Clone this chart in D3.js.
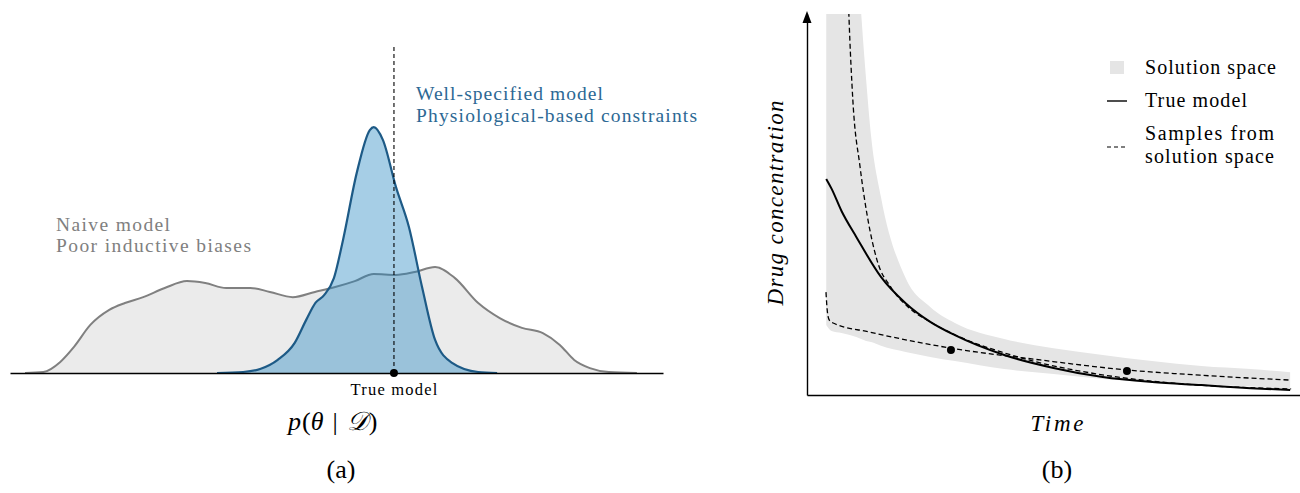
<!DOCTYPE html>
<html>
<head>
<meta charset="utf-8">
<script src="https://cdn.jsdelivr.net/npm/d3@7"></script>
<style>
  body { margin: 0; background: #fff; }
  svg { display: block; }
</style>
</head>
<body>
<svg id="chart" width="1300" height="493" font-family="'Liberation Serif', 'DejaVu Serif', serif"></svg>
<script>
// ---- (a) posterior densities p(theta | D) ----
const naiveTheta = [2.3, 5.1, 7.7, 9.8, 12.3, 15.2, 17.6, 20.4, 23.7, 27.1, 29.9, 33.1, 36.8, 39.8, 43.3, 46.7, 49.8, 52.8, 55.7, 59.1, 62.0, 65.1, 68.1, 71.7, 75.0, 78.4, 81.6, 84.2, 86.4, 88.8, 91.7, 96.0];
const naiveDens  = [0, 0.003, 0.034, 0.080, 0.147, 0.193, 0.214, 0.232, 0.260, 0.281, 0.275, 0.260, 0.260, 0.248, 0.232, 0.248, 0.263, 0.281, 0.303, 0.300, 0.309, 0.324, 0.291, 0.214, 0.168, 0.138, 0.122, 0.086, 0.040, 0.015, 0.003, 0];
const wellTheta = [31.7, 35.7, 38.3, 41.0, 43.6, 45.4, 46.8, 48.1, 49.6, 51.0, 53.1, 55.1, 55.7, 57.1, 59.1, 61.1, 63.1, 65.1, 67.7, 71.7, 74.6];
const wellDens  = [0, 0.003, 0.012, 0.040, 0.092, 0.164, 0.215, 0.238, 0.290, 0.407, 0.612, 0.743, 0.752, 0.713, 0.569, 0.446, 0.263, 0.101, 0.031, 0.003, 0];
const trueTheta = 58.8;

// ---- (b) drug concentration over time ----
const bandTime = [0.39, 0.5, 0.7, 1.0, 1.1, 1.2, 1.3, 1.5, 2, 2.5, 3, 4, 5, 6, 7, 8, 9, 9.8];
const bandLow  = [1.84, 1.68, 1.63, 1.52, 1.47, 1.42, 1.39, 1.29, 1.13, 1.0, 0.89, 0.68, 0.55, 0.42, 0.34, 0.28, 0.22, 0.16];
const bandHigh = [40, 30, 20, 12, 10.0, 8.27, 6.8, 5.2, 3.07, 2.31, 1.89, 1.47, 1.23, 1.05, 0.89, 0.76, 0.68, 0.60];
const trueTime = [0.39, 0.5, 0.7, 1.0, 1.5, 2, 2.5, 3, 4, 5, 6, 7, 8, 9, 9.8];
const trueConc = [5.67, 5.41, 4.83, 4.15, 3.10, 2.41, 1.92, 1.57, 1.05, 0.71, 0.47, 0.34, 0.26, 0.18, 0.13];
const sampleATime = [0.78, 0.85, 0.93, 1.075, 1.22, 1.42, 1.70, 2.05, 2.54, 3.25, 3.94, 4.65, 6.04, 7.44, 9.82];
const sampleAConc = [13, 9.97, 7.74, 6.0, 4.72, 3.54, 2.83, 2.31, 1.89, 1.44, 1.13, 0.87, 0.52, 0.31, 0.16];
const sampleBTime = [0.385, 0.41, 0.45, 0.53, 1.28, 2.92, 4.73, 6.47, 7.97, 9.82];
const sampleBConc = [2.70, 2.23, 1.97, 1.89, 1.65, 1.23, 0.92, 0.66, 0.52, 0.39];
const obsTime = [2.92, 6.49];
const obsConc = [1.18, 0.63];
const legendLabels = [["Solution space"], ["True model"], ["Samples from", "solution space"]];

const naiveColor = "#808080";
const naiveFill = "#ebebeb";
const wellStroke = "#1d5a86";
const wellFill = "rgba(33, 132, 192, 0.4)";
const wellText = "#2c6894";
const bandColor = "#e5e5e5";

const svg = d3.select("#chart");

// ---------- panel (a) ----------
const xA = d3.scaleLinear().domain([0, 100]).range([10, 663]);
const yA = d3.scaleLinear().domain([0, 1]).range([373, 46]);

const naive = naiveTheta.map((t, i) => ({t: t, d: naiveDens[i]}));
const well = wellTheta.map((t, i) => ({t: t, d: wellDens[i]}));

const areaA = d3.area().x(d => xA(d.t)).y0(yA(0)).y1(d => yA(d.d)).curve(d3.curveMonotoneX);
const lineA = d3.line().x(d => xA(d.t)).y(d => yA(d.d)).curve(d3.curveMonotoneX);

const gA = svg.append("g").attr("class", "panel-a");

gA.append("path").datum(naive).attr("d", areaA).attr("fill", naiveFill);
gA.append("path").datum(naive).attr("d", lineA)
  .attr("fill", "none").attr("stroke", naiveColor).attr("stroke-width", 2);
gA.append("path").datum(well).attr("d", areaA).attr("fill", wellFill);
gA.append("path").datum(well).attr("d", lineA)
  .attr("fill", "none").attr("stroke", wellStroke).attr("stroke-width", 2.2);

gA.append("g")
  .attr("transform", `translate(0, ${yA(0)})`)
  .call(d3.axisBottom(xA).ticks(0).tickSizeOuter(0))
  .call(g => g.select(".domain").attr("stroke", "#000").attr("stroke-width", 1.6));

gA.append("line")
  .attr("x1", xA(trueTheta)).attr("x2", xA(trueTheta))
  .attr("y1", yA(0)).attr("y2", yA(1))
  .attr("stroke", "#000").attr("stroke-width", 1.1).attr("stroke-dasharray", "4,3");
gA.append("circle")
  .attr("cx", xA(trueTheta)).attr("cy", yA(0)).attr("r", 4).attr("fill", "#000");

gA.append("text")
  .attr("x", xA(trueTheta)).attr("y", 395)
  .attr("text-anchor", "middle").attr("font-size", 16.5).attr("textLength", 87)
  .text("True model");

// p(θ | D) with the wider spacing of a math "mid"
const pText = gA.append("text")
  .attr("x", 288).attr("y", 430).attr("font-size", 26);
pText.append("tspan").attr("font-style", "italic").text("p");
pText.append("tspan").attr("dx", 1).text("(");
pText.append("tspan").attr("font-style", "italic").text("θ");
pText.append("tspan").attr("dx", 9).text("|");
pText.append("tspan").attr("dx", 9).attr("font-style", "italic").text("𝒟");
pText.append("tspan").attr("dx", 1).text(")");

gA.append("text").attr("x", 341).attr("y", 478)
  .attr("text-anchor", "middle").attr("font-size", 26).text("(a)");

[["Well-specified model", 100, 187], ["Physiological-based constraints", 122, 281]].forEach(([s, y, w]) => {
  gA.append("text").attr("x", 416).attr("y", y).attr("font-size", 19.5)
    .attr("textLength", w).attr("fill", wellText).text(s);
});
[["Naive model", 231, 114], ["Poor inductive biases", 252, 195]].forEach(([s, y, w]) => {
  gA.append("text").attr("x", 56).attr("y", y).attr("font-size", 19.5)
    .attr("textLength", w).attr("fill", naiveColor).text(s);
});

// ---------- panel (b) ----------
const xB = d3.scaleLinear().domain([0, 10]).range([807, 1300]);
const yB = d3.scaleLinear().domain([0, 10]).range([395, 14]);

svg.append("defs").append("clipPath").attr("id", "clipB")
  .append("rect").attr("x", 807).attr("y", 14).attr("width", 493).attr("height", 381);

const gB = svg.append("g").attr("class", "panel-b");
const plotB = gB.append("g").attr("clip-path", "url(#clipB)");

const band = bandTime.map((t, i) => ({t: t, lo: bandLow[i], hi: bandHigh[i]}));
plotB.append("path").datum(band)
  .attr("d", d3.area().x(d => xB(d.t)).y0(d => yB(d.lo)).y1(d => yB(d.hi)).curve(d3.curveMonotoneX))
  .attr("fill", bandColor);

const lineB = d3.line().x(d => xB(d.t)).y(d => yB(d.c)).curve(d3.curveMonotoneX);
plotB.append("path").datum(trueTime.map((t, i) => ({t: t, c: trueConc[i]})))
  .attr("d", lineB).attr("fill", "none").attr("stroke", "#000").attr("stroke-width", 2);
plotB.append("path").datum(sampleATime.map((t, i) => ({t: t, c: sampleAConc[i]})))
  .attr("d", lineB).attr("fill", "none").attr("stroke", "#000").attr("stroke-width", 1.3)
  .attr("stroke-dasharray", "5,3");
plotB.append("path").datum(sampleBTime.map((t, i) => ({t: t, c: sampleBConc[i]})))
  .attr("d", lineB).attr("fill", "none").attr("stroke", "#000").attr("stroke-width", 1.3)
  .attr("stroke-dasharray", "5,3");
plotB.selectAll("circle").data(obsTime).join("circle")
  .attr("cx", d => xB(d)).attr("cy", (d, i) => yB(obsConc[i])).attr("r", 4).attr("fill", "#000");

gB.append("g").attr("transform", `translate(0, ${yB(0)})`)
  .call(d3.axisBottom(xB).ticks(0).tickSizeOuter(0))
  .call(g => g.select(".domain").attr("stroke", "#000").attr("stroke-width", 1.4));
gB.append("g").attr("transform", `translate(${xB(0)}, 0)`)
  .call(d3.axisLeft(yB).ticks(0).tickSizeOuter(0))
  .call(g => g.select(".domain").attr("stroke", "#000").attr("stroke-width", 1.4));
gB.append("path")
  .attr("d", `M${xB(0)},${yB(10) - 3} L${xB(0) - 4.5},${yB(10) + 9} L${xB(0) + 4.5},${yB(10) + 9} Z`)
  .attr("fill", "#000");

gB.append("text").attr("x", 1057).attr("y", 431).attr("text-anchor", "middle")
  .attr("font-size", 23).attr("font-style", "italic").attr("textLength", 53).text("Time");
gB.append("text").attr("transform", "translate(783, 203) rotate(-90)")
  .attr("text-anchor", "middle").attr("font-size", 23).attr("font-style", "italic")
  .attr("textLength", 205).text("Drug concentration");
gB.append("text").attr("x", 1057).attr("y", 478).attr("text-anchor", "middle")
  .attr("font-size", 26).text("(b)");

// legend
const legend = gB.append("g").attr("class", "legend");
legend.append("rect").attr("x", 1110).attr("y", 61).attr("width", 14).attr("height", 13).attr("fill", bandColor);
legend.append("line").attr("x1", 1107).attr("x2", 1127).attr("y1", 101).attr("y2", 101)
  .attr("stroke", "#000").attr("stroke-width", 1.4);
legend.append("line").attr("x1", 1107).attr("x2", 1127).attr("y1", 147).attr("y2", 147)
  .attr("stroke", "#000").attr("stroke-width", 1.2).attr("stroke-dasharray", "4,3");
const legendY = [[74], [107], [140, 163]];
const legendW = [[131], [102], [129, 129]];
legendLabels.forEach((lines, i) => {
  lines.forEach((s, j) => {
    legend.append("text").attr("x", 1145).attr("y", legendY[i][j]).attr("font-size", 20)
      .attr("textLength", legendW[i][j]).text(s);
  });
});
</script>
</body>
</html>
